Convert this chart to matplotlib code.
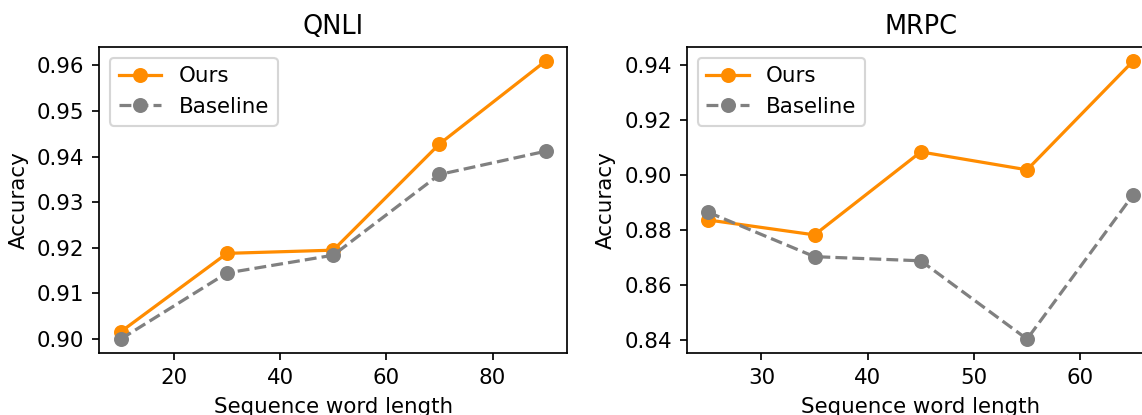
import matplotlib
matplotlib.use("Agg")
import matplotlib.pyplot as plt

# QNLI
qnli_len = [10, 30, 50, 70, 90]
qnli_ours = [0.9016, 0.9188, 0.9195, 0.9428, 0.9610]
qnli_base = [0.9000, 0.9145, 0.9184, 0.9361, 0.9412]

# MRPC
mrpc_len = [25, 35, 45, 55, 65]
mrpc_ours = [0.8836, 0.8782, 0.9083, 0.9018, 0.9413]
mrpc_base = [0.8864, 0.8703, 0.8688, 0.8404, 0.8928]

DPI = 154
fig = plt.figure(figsize=(1142 / DPI, 415 / DPI), dpi=DPI)
ax1 = fig.add_axes([0.0871, 0.1494, 0.4094, 0.7373])
ax2 = fig.add_axes([0.6016, 0.1494, 0.4094, 0.7373])

panels = [(ax1, "QNLI", qnli_len, qnli_ours, qnli_base),
          (ax2, "MRPC", mrpc_len, mrpc_ours, mrpc_base)]

for ax, title, x, ours, base in panels:
    ax.plot(x, ours, "-o", color="darkorange", label="Ours")
    ax.plot(x, base, "--o", color="gray", label="Baseline")
    ax.set_title(title)
    ax.set_xlabel("Sequence word length")
    ax.set_ylabel("Accuracy")
    ax.legend(loc="upper left")

ax1.set_yticks([0.90, 0.91, 0.92, 0.93, 0.94, 0.95, 0.96])
ax2.set_yticks([0.84, 0.86, 0.88, 0.90, 0.92, 0.94])

fig.savefig("out.png", dpi=DPI)
